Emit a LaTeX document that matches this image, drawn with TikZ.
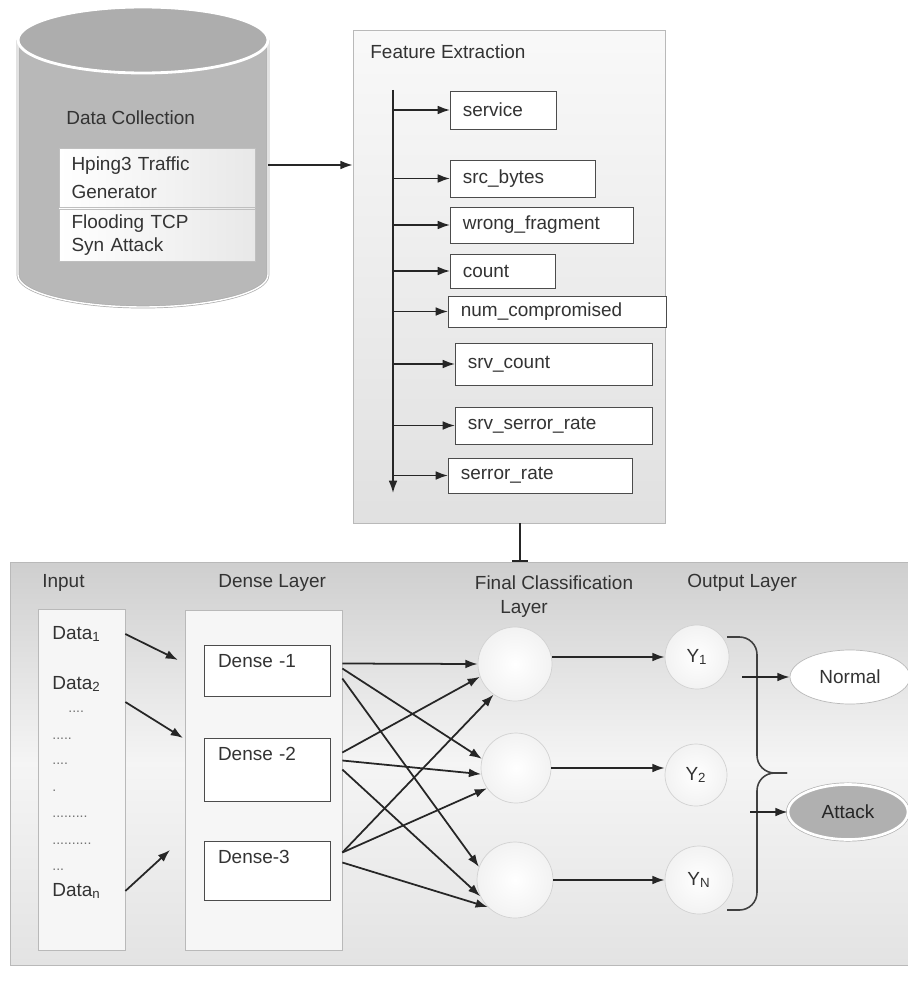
\documentclass[tikz,border=0pt]{standalone}
\usepackage{fontspec}
\setmainfont{Liberation Sans}
\usetikzlibrary{arrows.meta,positioning,calc,shapes.geometric}

\begin{document}
\begin{tikzpicture}[x=0.02cm, y=-0.02cm,
  >={Latex[length=7pt,width=5pt]}, font=\fontsize{10.8}{13}\selectfont, text=black!80,
  feat/.style={draw=black!70, fill=white, anchor=west, align=left, inner xsep=0.25cm, minimum height=#1},
  dbox/.style={draw=black!70, fill=white, align=left, text width=1.96cm, inner xsep=0.28cm, inner ysep=0.14cm, text height=0.3cm, text depth=#1},
  cbox/.style={draw=gray!50, left color=white, right color=gray!18, align=left, text width=3.42cm, inner xsep=0.25cm, minimum height=#1},
  neuron/.style={circle, draw=gray!35, inner color=white, outer color=gray!10, minimum size=#1, inner sep=0pt},
  pnl/.style={draw=gray!55, rectangle, inner sep=0pt},
  lnk/.style={->, line width=1pt, black!85},
  ttl/.style={anchor=west, inner sep=0pt},
  dots/.style={anchor=west, inner sep=0pt, text=black!55, font=\footnotesize}]
\useasboundingbox (0,0) rectangle (908,990);
% data collection cylinder
\fill[gray!56] (18,40) -- (18,275) arc[start angle=180, end angle=360, x radius=2.5cm, y radius=0.64cm] -- (268,40) -- cycle;
\draw[gray!65, double=white, double distance=0.8pt] (18,40) -- (18,275) arc[start angle=180, end angle=360, x radius=2.5cm, y radius=0.64cm] -- (268,40);
\filldraw[fill=gray!64, draw=white, line width=1.6pt] (143,40) ellipse [x radius=2.5cm, y radius=0.66cm];
\node[ttl] (dct) at (66,118) {Data Collection};
\node[cbox=1.18cm] (hp) at (157,177.5) {Hping3 Traffic\\[3pt]Generator};
\node[cbox=0.88cm] (fl) at (157,235) {Flooding TCP\\Syn Attack};
% feature extraction panel
\node[pnl, top color=gray!5, bottom color=gray!24, minimum width=6.24cm, minimum height=9.86cm] (fe) at (509,276.5) {};
\node[ttl] (fet) at (370,52) {Feature Extraction};
\coordinate (dcr) at (268,165);
\draw[lnk] (dcr) -- (dcr -| fe.west);
\coordinate (ax0) at (393,90);
\coordinate (ax1) at (393,493);
\draw[lnk] (ax0) -- (ax1);
\node[feat=0.76cm, text width=1.62cm] (svc) at (450,110) {service};
\node[feat=0.74cm, text width=2.40cm] (srcb) at (450,178.5) {src\_bytes};
\node[feat=0.72cm, text width=3.16cm] (wrf) at (450,225) {wrong\_fragment};
\node[feat=0.68cm, text width=1.60cm] (cnt) at (450,271) {count};
\node[feat=0.62cm, text width=3.86cm] (numc) at (448,311.5) {num\_compromised};
\node[feat=0.84cm, text width=3.44cm] (srvc) at (455,364) {srv\_count};
\node[feat=0.74cm, text width=3.44cm] (srvs) at (455,425.5) {srv\_serror\_rate};
\node[feat=0.70cm, text width=3.18cm] (serr) at (448,475.5) {serror\_rate};
\foreach \f in {svc,srcb,wrf,cnt,numc,srvc,srvs,serr}
  \draw[lnk] (ax0 |- \f.west) -- (\f.west);
% network panel
\node[pnl, top color=gray!38, bottom color=gray!22, middle color=white!92!gray, minimum width=17.96cm, minimum height=8.06cm] (nn) at (459,763.5) {};
\coordinate (fes) at ($(fe.south)+(11,0)$);
\draw[-{Bar[width=9pt]}, line width=1pt, black!85] (fes) -- (fes |- nn.north);
\node[ttl] (tin) at (42,583) {Input};
\node[ttl] (tdl) at (218,583) {Dense Layer};
\node (tfc) at (554,583) {Final Classification};
\node (tfc2) at (524,609) {Layer};
\node[ttl] (tol) at (687,583) {Output Layer};
\node[pnl, fill=white!93!gray, minimum width=1.74cm, minimum height=6.82cm] (inp) at (81.5,779.5) {};
\node[pnl, fill=white!93!gray, minimum width=3.14cm, minimum height=6.8cm] (dl) at (263.5,780) {};
\node[ttl] (x1) at (52,634) {Data\textsubscript{1}};
\node[ttl] (x2) at (52,684) {Data\textsubscript{2}};
\node[dots] (dt1) at (68,712) {....};
\node[dots] (dt2) at (52,739) {.....};
\node[dots] (dt3) at (52,764) {....};
\node[dots] (dt4) at (52,791) {.};
\node[dots] (dt5) at (52,817) {.........};
\node[dots] (dt6) at (52,844) {..........};
\node[dots] (dt7) at (52,870) {...};
\node[ttl] (xn) at (52,891) {Data\textsubscript{n}};
\node[dbox=0.44cm] (dd1) at (267,670.5) {Dense -1};
\node[dbox=0.68cm] (dd2) at (267,769.5) {Dense -2};
\node[dbox=0.60cm] (dd3) at (267,870.5) {Dense-3};
\coordinate (a1) at (178,660);
\coordinate (a2) at (183,738);
\coordinate (a3) at (170,850);
\draw[lnk] (x1.east -| inp.east) -- (a1);
\draw[lnk] ($(x2.east -| inp.east)+(0,18)$) -- (a2);
\draw[lnk] (xn.east -| inp.east) -- (a3);
% classification and output neurons
\node[neuron=1.48cm] (f1) at (515,664) {};
\node[neuron=1.40cm] (f2) at (516,768) {};
\node[neuron=1.52cm] (f3) at (515,880) {};
\node[neuron=1.28cm] (y1) at (697,657) {Y\textsubscript{1}};
\node[neuron=1.24cm] (y2) at (696,775) {Y\textsubscript{2}};
\node[neuron=1.36cm] (yn) at (699,880) {Y\textsubscript{N}};
\draw[lnk] ($(dd1.east -| dl.east)+(0,-7)$) -- (f1.west);
\draw[lnk] ($(dd1.east -| dl.east)+(0,-2)$) -- (f2.165);
\draw[lnk] ($(dd1.east -| dl.east)+(0,8)$) -- (f3.160);
\draw[lnk] ($(dd2.east -| dl.east)+(0,-17)$) -- (f1.200);
\draw[lnk] ($(dd2.east -| dl.east)+(0,-9)$) -- (f2.190);
\draw[lnk] (dd2.east -| dl.east) -- (f3.205);
\draw[lnk] ($(dd3.east -| dl.east)+(0,-18)$) -- (f1.235);
\draw[lnk] ($(dd3.east -| dl.east)+(0,-18)$) -- (f2.215);
\draw[lnk] ($(dd3.east -| dl.east)+(0,-8)$) -- (f3.225);
\draw[lnk] (f1.east |- y1.west) -- (y1.west);
\draw[lnk] (f2.east) -- (f2.east -| y2.west);
\draw[lnk] (f3) -- (yn);
% brace and decision
\coordinate (brc) at (757,773);
\coordinate (bt) at (727,637);
\coordinate (bb) at (727,910);
\draw[line width=0.9pt, black!75, rounded corners=10pt] (bt) -| (brc) -- ++(30,0);
\draw[line width=0.9pt, black!75, rounded corners=10pt] ($(brc)+(30,0)$) -- (brc) |- (bb);
\node[ellipse, draw=gray!55, fill=white, minimum width=2.4cm, minimum height=1.08cm] (nrm) at (850,677) {Normal};
\node[ellipse, draw=gray!60, double=white, double distance=1.5pt, fill=gray!62, minimum width=2.4cm, minimum height=1.1cm, text=black!85] (atk) at (848,812) {Attack};
\draw[lnk] ($(brc |- nrm.west)+(-15,0)$) -- (nrm.west);
\draw[lnk] ($(brc |- atk.west)+(-7,0)$) -- (atk.west);
\end{tikzpicture}
\end{document}
